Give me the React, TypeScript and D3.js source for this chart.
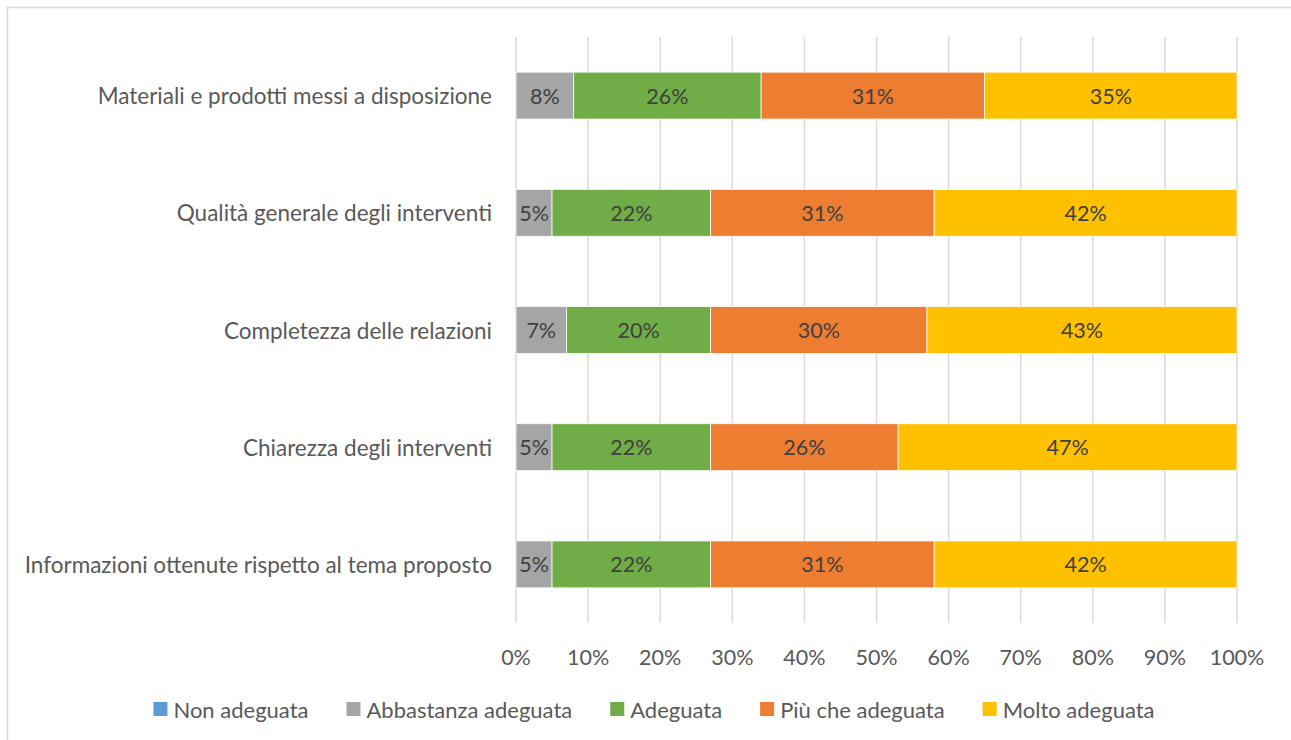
import { useEffect, useRef } from 'react';
import * as d3 from 'd3';

// Categories, top to bottom
const categories = [
    'Materiali e prodotti messi a disposizione',
    'Qualità generale degli interventi',
    'Completezza delle relazioni',
    'Chiarezza degli interventi',
    'Informazioni ottenute rispetto al tema proposto',
];

const seriesNames = ['Non adeguata', 'Abbastanza adeguata', 'Adeguata', 'Più che adeguata', 'Molto adeguata'];
const seriesColors = ['#5B9BD5', '#A5A5A5', '#70AD47', '#ED7D31', '#FFC000'];

// values in %, one array per series, in category order
const nonAdeguata = [0, 0, 0, 0, 0];
const abbastanza = [8, 5, 7, 5, 5];
const adeguata = [26, 22, 20, 22, 22];
const piuCheAdeguata = [31, 31, 30, 26, 31];
const moltoAdeguata = [35, 42, 43, 47, 42];

const xTicks = [0, 10, 20, 30, 40, 50, 60, 70, 80, 90, 100];

const FONT = 'Lato, "Open Sans", sans-serif';
const W = 1291;
const H = 740;

export default function App() {
    const svgRef = useRef<SVGSVGElement | null>(null);

    useEffect(() => {
        if (!svgRef.current) return;
        const svg = d3.select(svgRef.current);
        svg.selectAll('*').remove();

        const series = [nonAdeguata, abbastanza, adeguata, piuCheAdeguata, moltoAdeguata];

        // chart border
        svg.append('rect')
            .attr('x', 7.5).attr('y', 7.5)
            .attr('width', W).attr('height', H)
            .attr('fill', '#fff')
            .attr('stroke', '#d9d9d9').attr('stroke-width', 1.5);

        const plot = { left: 516, right: 1237, top: 37, bottom: 623 };

        const x = d3.scaleLinear().domain([0, 100]).range([plot.left, plot.right]);
        const y = d3.scaleBand<string>()
            .domain(categories)
            .range([plot.top, plot.bottom])
            .paddingInner(0.6)
            .paddingOuter(0.3);

        // gridlines
        svg.append('g').selectAll('line').data(xTicks).join('line')
            .attr('x1', d => x(d)).attr('x2', d => x(d))
            .attr('y1', plot.top).attr('y2', plot.bottom)
            .attr('stroke', '#d9d9d9').attr('stroke-width', 1.5);

        // tick labels
        svg.append('g').selectAll('text').data(xTicks).join('text')
            .attr('x', d => x(d)).attr('y', 657)
            .attr('text-anchor', 'middle').attr('dominant-baseline', 'central')
            .style('font-family', FONT).style('font-size', '21.5px').style('fill', '#595959')
            .text(d => `${d}%`);

        // category labels
        svg.append('g').selectAll('text').data(categories).join('text')
            .attr('x', 492).attr('y', d => (y(d) ?? 0) + y.bandwidth() / 2)
            .attr('text-anchor', 'end').attr('dominant-baseline', 'central')
            .style('font-family', FONT).style('font-size', '22.5px').style('fill', '#595959')
            .text(d => d);

        // stacked bars
        const bars = svg.append('g');
        categories.forEach((cat, ci) => {
            let acc = 0;
            series.forEach((vals, si) => {
                const v = vals[ci];
                const x0 = acc;
                acc += v;
                if (v <= 0) return;
                bars.append('rect')
                    .attr('x', x(x0)).attr('y', y(cat) ?? 0)
                    .attr('width', x(acc) - x(x0)).attr('height', y.bandwidth())
                    .attr('fill', seriesColors[si])
                    .attr('stroke', '#fff').attr('stroke-width', 0.75);
                bars.append('text')
                    .attr('x', x(x0 + v / 2)).attr('y', (y(cat) ?? 0) + y.bandwidth() / 2)
                    .attr('text-anchor', 'middle').attr('dominant-baseline', 'central')
                    .style('font-family', FONT).style('font-size', '21.5px').style('fill', '#404040')
                    .text(`${v}%`);
            });
        });

        // legend, measured and centred
        const legend = svg.append('g');
        const items = seriesNames.map((name, i) => {
            const g = legend.append('g');
            g.append('rect')
                .attr('x', 0).attr('y', -7).attr('width', 14).attr('height', 14)
                .attr('fill', seriesColors[i]);
            const t = g.append('text')
                .attr('x', 20).attr('y', 0)
                .attr('dominant-baseline', 'central')
                .style('font-family', FONT).style('font-size', '22px').style('fill', '#595959')
                .text(name);
            const tw = (t.node() as SVGTextElement).getComputedTextLength();
            return { g, w: 20 + tw };
        });
        const gap = 38;
        const total = d3.sum(items, d => d.w) + gap * (items.length - 1);
        let lx = 654 - total / 2;
        items.forEach(it => {
            it.g.attr('transform', `translate(${lx},709)`);
            lx += it.w + gap;
        });
    }, []);

    return (
        <div style={{ position: 'absolute', left: 0, top: 0 }}>
            <svg ref={svgRef} width={W} height={H} style={{ display: 'block', background: '#fff' }} />
        </div>
    );
}
